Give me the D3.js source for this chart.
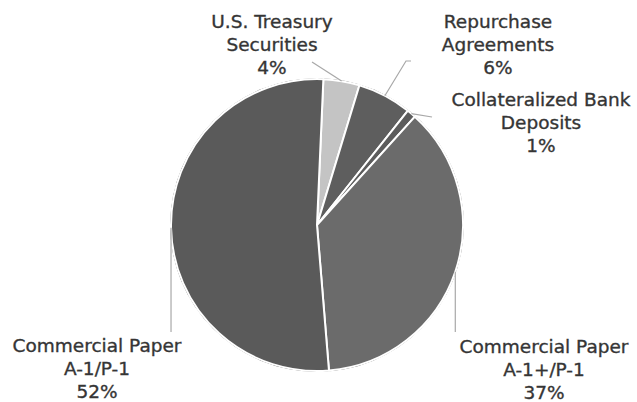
<!DOCTYPE html>
<html>
<head>
<meta charset="utf-8">
<script src="https://cdn.jsdelivr.net/npm/d3@7"></script>
<style>
  html, body { margin: 0; padding: 0; background: #ffffff; }
  svg { display: block; }
  .lbl {
    font-family: "DejaVu Sans", Verdana, sans-serif;
    font-size: 18.5px;
    fill: #353535;
    stroke: #353535;
    stroke-width: 0.35px;
  }
</style>
</head>
<body>
<svg id="chart" width="637" height="402"></svg>
<script>
// Portfolio composition by asset type (percent of holdings)
const categories = [
  ["U.S. Treasury", "Securities"],
  ["Repurchase", "Agreements"],
  ["Collateralized Bank", "Deposits"],
  ["Commercial Paper", "A-1+/P-1"],
  ["Commercial Paper", "A-1/P-1"]
];
const shares = [4, 6, 1, 37, 52];
const fills = ["#c4c4c4", "#5e5e5e", "#5c5c5c", "#6b6b6b", "#5a5a5a"];

// Label placement: first-line position and where each leader line ends
const labelLayout = [
  { x: 272, y: 28,  end: [312, 62],  elbow: null },
  { x: 498, y: 28,  end: [406, 61],  elbow: [411, 61] },
  { x: 541, y: 106, end: [432, 117], elbow: null },
  { x: 544, y: 353, end: null, dropTo: 332 },
  { x: 97,  y: 352, end: null, dropTo: 332 }
];
const lineGap = 23;

const svg = d3.select("#chart");
const cx = 317, cy = 225, radius = 146;
const startOffset = 2.5 * Math.PI / 180;

const pie = d3.pie()
  .sort(null)
  .value(d => d)
  .startAngle(startOffset)
  .endAngle(startOffset + 2 * Math.PI);

const arcs = pie(shares);
const arc = d3.arc().innerRadius(0).outerRadius(radius);

const g = svg.append("g").attr("transform", `translate(${cx},${cy})`);

// dark rim behind the slices
g.append("circle")
  .attr("r", radius + 0.8)
  .attr("fill", "#2e2e2e");

g.selectAll("path.slice")
  .data(arcs)
  .join("path")
  .attr("class", "slice")
  .attr("d", arc)
  .attr("fill", (d, i) => fills[i])
  .attr("stroke", "#ffffff")
  .attr("stroke-width", 2)
  .attr("stroke-linejoin", "round");

// leader lines from each slice's outer edge
function edgePoint(d, r) {
  const a = (d.startAngle + d.endAngle) / 2;
  return [cx + r * Math.sin(a), cy - r * Math.cos(a)];
}

arcs.forEach((d, i) => {
  const L = labelLayout[i];
  const p0 = edgePoint(d, radius);
  let pts;
  if (L.dropTo != null) {
    pts = [p0, [p0[0], L.dropTo]];
  } else {
    pts = [p0, L.end];
    if (L.elbow) pts.push(L.elbow);
  }
  svg.append("path")
    .attr("d", d3.line()(pts))
    .attr("fill", "none")
    .attr("stroke", "#a8a8a8")
    .attr("stroke-width", 1.2);
});

// category labels with percentages
arcs.forEach((d, i) => {
  const L = labelLayout[i];
  const t = svg.append("text")
    .attr("class", "lbl")
    .attr("text-anchor", "middle");
  const lines = categories[i].concat([shares[i] + "%"]);
  lines.forEach((s, k) => {
    t.append("tspan")
      .attr("x", L.x)
      .attr("y", L.y + k * lineGap)
      .text(s);
  });
});
</script>
</body>
</html>
